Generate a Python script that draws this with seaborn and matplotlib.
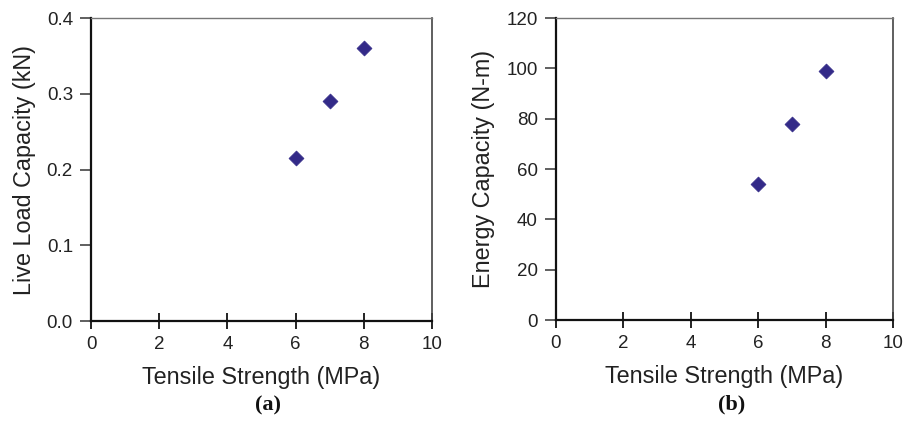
import matplotlib
matplotlib.use("Agg")
import matplotlib.pyplot as plt
import seaborn as sns
import pandas as pd

# Measured values
tensile_strength = [6, 7, 8]
live_load_kn = [0.215, 0.29, 0.36]
energy_nm = [54, 78, 99]

x_ticks = [0, 2, 4, 6, 8, 10]
live_ticks = [0.0, 0.1, 0.2, 0.3, 0.4]
energy_ticks = [0, 20, 40, 60, 80, 100, 120]

sns.set_theme(style="white")
plt.rcParams["font.family"] = ["Liberation Sans", "DejaVu Sans"]

marker_color = "#332a88"

fig = plt.figure(figsize=(9.11, 4.22), dpi=100)
ax_a = fig.add_axes([0.0999, 0.2393, 0.3743, 0.718])
ax_b = fig.add_axes([0.6103, 0.2417, 0.3700, 0.7156])

panels = [
    (ax_a, live_load_kn, "Live Load Capacity (kN)", live_ticks, (0, 0.4), "(a)", "{:.1f}"),
    (ax_b, energy_nm, "Energy Capacity (N-m)", energy_ticks, (0, 120), "(b)", "{:.0f}"),
]

for ax, yvals, ylabel, yticks, ylim, tag, fmt in panels:
    df = pd.DataFrame({"x": tensile_strength, "y": yvals})
    sns.scatterplot(data=df, x="x", y="y", ax=ax, marker="D", s=58,
                    color=marker_color, edgecolor=marker_color, linewidth=0.5,
                    zorder=3)
    ax.set_xlim(0, 10)
    ax.set_ylim(*ylim)
    ax.set_xticks(x_ticks)
    ax.set_xticklabels([str(t) for t in x_ticks])
    ax.set_yticks(yticks)
    ax.set_yticklabels([fmt.format(t) for t in yticks])
    ax.tick_params(axis="x", bottom=True, direction="inout", length=11, width=1.4,
                   color="#222222", labelsize=13.5, pad=5, labelcolor="#222222")
    ax.tick_params(axis="y", left=True, direction="out", length=8, width=1.2,
                   color="#444444", labelsize=13.5, pad=5, labelcolor="#222222")
    for side in ("left", "bottom"):
        ax.spines[side].set_color("#111111")
        ax.spines[side].set_linewidth(1.6)
    ax.spines["top"].set_color("#777777")
    ax.spines["top"].set_linewidth(1.0)
    ax.spines["right"].set_color("#444444")
    ax.spines["right"].set_linewidth(1.2)
    ax.set_xlabel("Tensile Strength (MPa)", fontsize=16.8, color="#222222", labelpad=10)
    ax.set_ylabel(ylabel, fontsize=16.8, color="#222222", labelpad=8)
    ax.text(0.52, -0.28, tag, transform=ax.transAxes, ha="center", va="center",
            fontsize=16, fontweight="bold", family=["Liberation Serif", "DejaVu Serif"],
            color="#111111")
    ax.grid(False)

fig.savefig("out.png", dpi=100, facecolor="white")
